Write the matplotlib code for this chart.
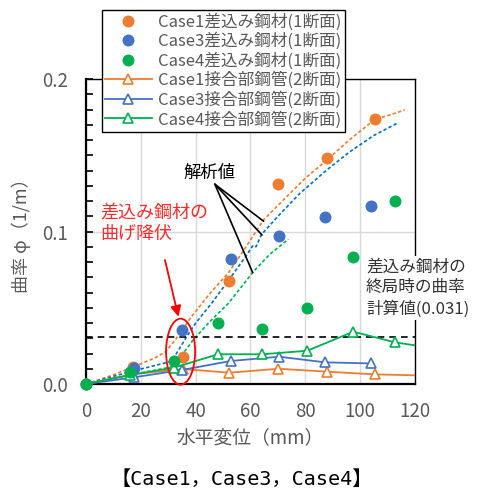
import matplotlib
matplotlib.use("Agg")
import matplotlib.pyplot as plt
from matplotlib.patches import Ellipse
from matplotlib.ticker import MultipleLocator, FormatStrFormatter

plt.rcParams['font.family'] = ['Noto Sans CJK JP', 'DejaVu Sans']

# ---- data ----
c1_pin_x = [0, 17.3, 35.5, 52.3, 70.1, 88.0, 105.4]
c1_pin_y = [0, 0.011, 0.0179, 0.0678, 0.131, 0.148, 0.1736]
c3_pin_x = [0, 17.6, 35.0, 52.8, 70.5, 87.2, 103.9]
c3_pin_y = [0, 0.0103, 0.0354, 0.0822, 0.097, 0.1093, 0.1169]
c4_pin_x = [0, 16.0, 32.1, 48.1, 64.3, 80.7, 97.5, 112.7]
c4_pin_y = [0, 0.0077, 0.0153, 0.0398, 0.0361, 0.050, 0.083, 0.120]

c1_pipe_x = [0, 17.3, 35.5, 52.3, 70.1, 87.8, 105.4, 125]
c1_pipe_y = [0, 0.0065, 0.0098, 0.0074, 0.0100, 0.0081, 0.0063, 0.0055]
c3_pipe_x = [0, 17.5, 35.0, 52.8, 70.5, 87.2, 103.9]
c3_pipe_y = [0, 0.0044, 0.0092, 0.0151, 0.0179, 0.0142, 0.0135]
c4_pipe_x = [0, 16.0, 32.1, 48.1, 64.3, 80.7, 97.5, 112.7, 125]
c4_pipe_y = [0, 0.0059, 0.0107, 0.0195, 0.0195, 0.0218, 0.0343, 0.0273, 0.0240]

c1_ana_x = [0, 10, 17, 25, 29, 33, 38, 45, 52, 58, 64.7, 72, 80, 88, 96, 105.4, 110, 116.3]
c1_ana_y = [0, 0.006, 0.011, 0.017, 0.021, 0.030, 0.043, 0.059, 0.073, 0.089, 0.1075,
            0.1207, 0.135, 0.147, 0.160, 0.1736, 0.176, 0.1797]
c3_ana_x = [0, 16, 30.6, 33, 36.7, 40, 45.8, 52, 58, 61, 62, 64, 70, 78, 87.8, 96, 105, 113.5]
c3_ana_y = [0, 0.008, 0.0146, 0.020, 0.031, 0.040, 0.0529, 0.068, 0.083, 0.091, 0.090,
            0.098, 0.110, 0.125, 0.1403, 0.152, 0.163, 0.171]
c4_ana_x = [0, 16, 31.8, 35, 39.1, 45.2, 52, 61, 67, 73.8]
c4_ana_y = [0, 0.0059, 0.0114, 0.019, 0.0289, 0.041, 0.053, 0.0736, 0.085, 0.0949]

ultimate_curv = 0.031

pin_labels = ['Case1差込み鋼材(1断面)', 'Case3差込み鋼材(1断面)', 'Case4差込み鋼材(1断面)']
pipe_labels = ['Case1接合部鋼管(2断面)', 'Case3接合部鋼管(2断面)', 'Case4接合部鋼管(2断面)']

ORANGE = '#ED7D31'
BLUE = '#4472C4'
GREEN = '#00B050'
GRAY = '#595959'

W, H = 481, 492
fig = plt.figure(figsize=(W / 100, H / 100), dpi=100)
ax = fig.add_axes([86 / W, 1 - 384 / H, (415 - 86) / W, (384 - 79) / H])

ax.set_xlim(0, 120)
ax.set_ylim(0, 0.2)
ax.xaxis.set_major_locator(MultipleLocator(20))
ax.yaxis.set_major_locator(MultipleLocator(0.1))
ax.yaxis.set_minor_locator(MultipleLocator(0.01))
ax.yaxis.set_major_formatter(FormatStrFormatter('%.1f'))
ax.grid(axis='x', color='#D9D9D9', lw=1.0, zorder=0)
ax.grid(axis='y', which='major', color='#D9D9D9', lw=1.0, zorder=0)
ax.set_axisbelow(True)

ax.tick_params(axis='x', length=0, pad=12, labelsize=13.5, colors=GRAY)
ax.tick_params(axis='y', which='both', direction='in', length=5, width=1.2, color='black',
               pad=13, labelsize=13.5, labelcolor=GRAY)
for s in ['left', 'bottom']:
    ax.spines[s].set_linewidth(1.6)
for s in ['top', 'right']:
    ax.spines[s].set_linewidth(1.0)

ax.set_xlabel('水平変位（mm）', fontsize=13.5, color=GRAY, labelpad=4)
ax.set_ylabel('曲率 φ（1/m）', fontsize=13, color=GRAY, labelpad=8)

# analysis (dashed)
dash = (0, (2.0, 1.4))
ax.plot(c1_ana_x, c1_ana_y, color=ORANGE, lw=1.2, ls=dash, zorder=2)
ax.plot(c3_ana_x, c3_ana_y, color='#0070C0', lw=1.2, ls=dash, zorder=2)
ax.plot(c4_ana_x, c4_ana_y, color=GREEN, lw=1.2, ls=dash, zorder=2)

# ultimate curvature line
ax.axhline(ultimate_curv, color='black', lw=1.2, ls=(0, (4, 3)), zorder=2)

# pipe (triangles with lines)
h_pipe = []
for xs, ys, col, lab in [(c1_pipe_x, c1_pipe_y, ORANGE, pipe_labels[0]),
                         (c3_pipe_x, c3_pipe_y, BLUE, pipe_labels[1]),
                         (c4_pipe_x, c4_pipe_y, GREEN, pipe_labels[2])]:
    l, = ax.plot(xs, ys, color=col, lw=1.3, marker='^', ms=7, mfc='white', mec=col,
                 mew=1.2, label=lab, zorder=3)
    h_pipe.append(l)

# pins (filled circles)
h_pin = []
for xs, ys, col, lab in [(c1_pin_x, c1_pin_y, ORANGE, pin_labels[0]),
                         (c3_pin_x, c3_pin_y, BLUE, pin_labels[1]),
                         (c4_pin_x, c4_pin_y, GREEN, pin_labels[2])]:
    l, = ax.plot(xs, ys, ls='none', marker='o', ms=7.6, color=col, label=lab,
                 zorder=4, clip_on=False)
    h_pin.append(l)

# annotations
ax.text(45.2, 0.1385, '解析値', fontsize=12.5, color='black', ha='center', va='center')
apex = (47.0, 0.131)
for tgt in [(64.8, 0.1067), (64.2, 0.0977), (60.8, 0.0730)]:
    ax.annotate('', xy=tgt, xytext=apex,
                arrowprops=dict(arrowstyle='-', color='black', lw=1.2, shrinkA=0, shrinkB=0))

ax.text(5.1, 0.1055, '差込み鋼材の\n曲げ降伏', fontsize=13, color='#FF2A2A',
        ha='left', va='center', linespacing=1.25)
ax.annotate('', xy=(33.7, 0.0441), xytext=(28.8, 0.0813),
            arrowprops=dict(arrowstyle='-|>', color='#FF0000', lw=1.3,
                            mutation_scale=16, shrinkA=0, shrinkB=0))
ax.add_patch(Ellipse((34.5, 0.0212), 10.6, 0.0433, fill=False, ec='#FF0000', lw=1.3,
                     zorder=5, clip_on=False))

fig.text(366 / W, 1 - 288 / H, '差込み鋼材の\n終局時の曲率\n計算値(0.031)', fontsize=12,
         color='#333333', ha='left', va='center', linespacing=1.3,
         bbox=dict(boxstyle='square,pad=0.15', fc='white', ec='none'), zorder=6)

# legend
handles = h_pin + h_pipe
labels = pin_labels + pipe_labels
leg = fig.legend(handles, labels, loc='upper left',
                 bbox_to_anchor=(101.5 / W, 1 - 10 / H), bbox_transform=fig.transFigure,
                 borderaxespad=0, fontsize=12, frameon=True, fancybox=False,
                 edgecolor='black', framealpha=1, borderpad=0.2, labelspacing=0.12,
                 handlelength=2.8, handletextpad=0.4, numpoints=1)
leg.get_frame().set_linewidth(1.0)
for t in leg.get_texts():
    t.set_color(GRAY)

# title at bottom
fig.text(242 / W, 1 - 479 / H, '【Case1，Case3，Case4】', fontsize=14.5,
         family=['DejaVu Sans Mono', 'Noto Sans CJK JP'], color='black',
         ha='center', va='center')

fig.savefig('out.png', dpi=100)
